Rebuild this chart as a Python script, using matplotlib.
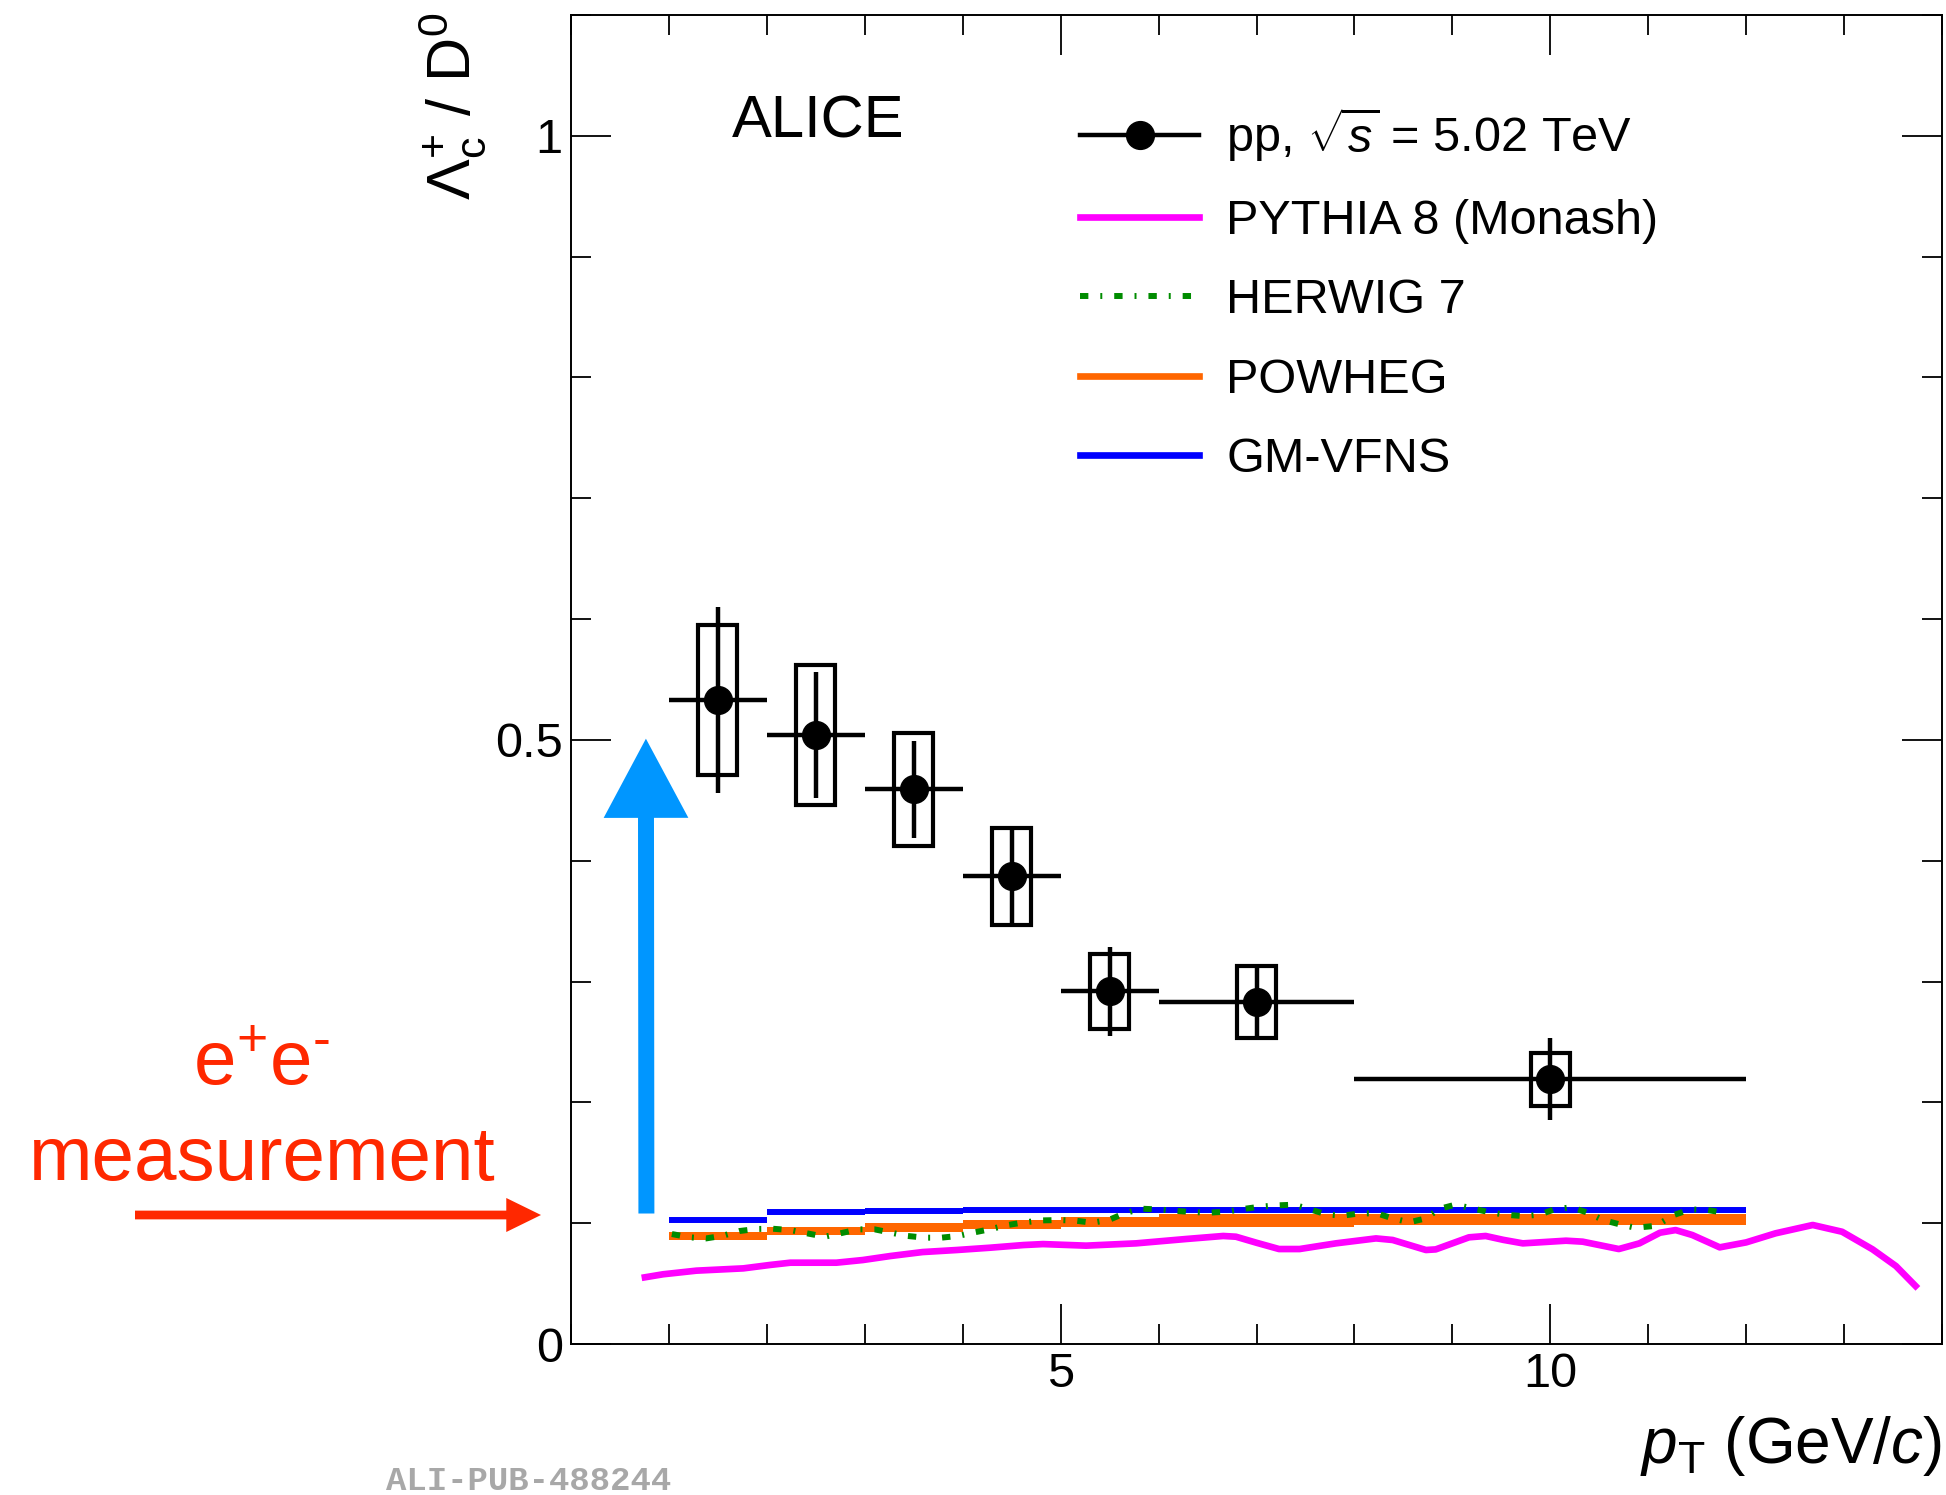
import matplotlib
matplotlib.use("Agg")
import matplotlib.pyplot as plt
from matplotlib.patches import Rectangle, FancyArrowPatch, ArrowStyle
from matplotlib.lines import Line2D
from matplotlib.ticker import MultipleLocator, FixedLocator, FixedFormatter

plt.rcParams['font.family'] = ['Liberation Sans', 'DejaVu Sans']
plt.rcParams['mathtext.fontset'] = 'custom'
plt.rcParams['mathtext.rm'] = 'Liberation Sans'
plt.rcParams['mathtext.it'] = 'Liberation Sans:italic'
plt.rcParams['mathtext.bf'] = 'Liberation Sans:bold'

# ---------------- data ----------------
pt_center = [1.5, 2.5, 3.5, 4.5, 5.5, 7.0, 10.0]
pt_halfwidth = [0.5, 0.5, 0.5, 0.5, 0.5, 1.0, 2.0]
ratio = [0.533, 0.504, 0.459, 0.387, 0.292, 0.283, 0.219]
stat_err = [0.077, 0.052, 0.040, 0.039, 0.037, 0.031, 0.034]
syst_err = [0.062, 0.058, 0.047, 0.040, 0.031, 0.030, 0.022]

model_edges = [1, 2, 3, 4, 5, 6, 8, 12]
gmvfns = [0.103, 0.1095, 0.1103, 0.1105, 0.111, 0.111, 0.111]
powheg_lo = [0.0862, 0.0905, 0.0925, 0.0950, 0.0965, 0.0965, 0.0985]
powheg_hi = [0.0924, 0.0970, 0.0998, 0.1026, 0.1050, 0.1080, 0.1075]

pythia_x = [0.755, 0.94, 1.28, 1.76, 2.03, 2.24, 2.71, 2.98, 3.26, 3.59, 3.94,
            4.28, 4.62, 4.82, 5.09, 5.26, 5.77, 6.28, 6.66, 6.79, 7.00, 7.23,
            7.44, 7.81, 8.22, 8.39, 8.73, 8.83, 9.17, 9.34, 9.52, 9.72, 10.16,
            10.33, 10.70, 10.91, 11.12, 11.28, 11.45, 11.73, 12.00, 12.30,
            12.68, 12.98, 13.29, 13.53, 13.73]
pythia_y = [0.0552, 0.0577, 0.0607, 0.0626, 0.0654, 0.0673, 0.0673, 0.0695,
            0.0728, 0.0761, 0.0778, 0.0797, 0.0819, 0.0827, 0.0819, 0.0814,
            0.0833, 0.0869, 0.0894, 0.0888, 0.0838, 0.0786, 0.0786, 0.0833,
            0.0874, 0.0861, 0.0778, 0.0783, 0.0883, 0.0894, 0.0862, 0.0833,
            0.0855, 0.0847, 0.0786, 0.0833, 0.0921, 0.0943, 0.0902, 0.0800,
            0.0841, 0.0916, 0.0985, 0.0929, 0.0784, 0.0645, 0.0480]

herwig_x = [1.03, 1.21, 1.38, 1.55, 1.72, 1.89, 2.06, 2.24, 2.41, 2.59, 2.75,
            2.93, 3.10, 3.27, 3.44, 3.61, 3.78, 3.95, 4.12, 4.29, 4.46, 4.63,
            4.81, 4.98, 5.15, 5.32, 5.49, 5.65, 5.82, 5.99, 6.16, 6.34, 6.51,
            6.69, 6.86, 7.03, 7.20, 7.38, 7.54, 7.71, 7.88, 8.05, 8.23, 8.39,
            8.56, 8.73, 8.86, 9.03, 9.20, 9.37, 9.54, 9.72, 9.89, 10.05, 10.22,
            10.38, 10.54, 10.71, 10.87, 11.05, 11.13, 11.27, 11.43, 11.61, 11.76]
herwig_y = [0.0910, 0.0883, 0.0874, 0.0896, 0.0935, 0.0952, 0.0954, 0.0943,
            0.0916, 0.0888, 0.0916, 0.0949, 0.0949, 0.0921, 0.0894, 0.0880,
            0.0880, 0.0894, 0.0924, 0.0952, 0.0985, 0.1007, 0.1023, 0.1026,
            0.1021, 0.1004, 0.1026, 0.1081, 0.1120, 0.1114, 0.1103, 0.1092,
            0.1087, 0.1095, 0.1117, 0.1136, 0.1147, 0.1153, 0.1117, 0.1073,
            0.1062, 0.1081, 0.1081, 0.1040, 0.1007, 0.1040, 0.1117, 0.1153,
            0.1123, 0.1092, 0.1070, 0.1059, 0.1070, 0.1117, 0.1131, 0.1087,
            0.1026, 0.0990, 0.0962, 0.0976, 0.1004, 0.1070, 0.1114, 0.1109,
            0.1087]

ytick_vals = [0, 0.5, 1]
ytick_labels = ['0', '0.5', '1']
xtick_vals = [5, 10]
xtick_labels = ['5', '10']

legend_labels = [r'pp, $\sqrt{s}$ = 5.02 TeV', 'PYTHIA 8 (Monash)', 'HERWIG 7',
                 'POWHEG', 'GM-VFNS']

# ---------------- style ----------------
W, H = 1946, 1495
fig = plt.figure(figsize=(W / 100, H / 100), dpi=100)
ax = fig.add_axes([571 / W, 151 / H, 1371 / W, 1329 / H])
ax.set_xlim(0, 14)
ax.set_ylim(0, 1.1)

C_PY = '#ff00ff'
C_HW = '#008c00'
C_PW = '#ff6600'
C_GM = '#0000ff'
HW_DASH = (0, (1.4, 2.0, 0.33, 2.0))

# POWHEG band
ax.stairs(powheg_hi, model_edges, baseline=powheg_lo, fill=True,
          color=C_PW, lw=0, zorder=2)
# GM-VFNS
ax.hlines(gmvfns, model_edges[:-1], model_edges[1:], colors=C_GM, lw=4.3,
          zorder=3)
# PYTHIA
ax.plot(pythia_x, pythia_y, color=C_PY, lw=4.8, zorder=3,
        solid_joinstyle='round')
# HERWIG
ax.plot(herwig_x, herwig_y, color=C_HW, lw=4.3, linestyle=HW_DASH,
        dash_capstyle='butt', zorder=4)

# data: systematic boxes
for xc, yc, s in zip(pt_center, ratio, syst_err):
    ax.add_patch(Rectangle((xc - 0.2, yc - s), 0.4, 2 * s, fill=False,
                           ec='black', lw=3.0, zorder=5))
ax.errorbar(pt_center, ratio, xerr=pt_halfwidth, yerr=stat_err, fmt='o',
            color='black', ms=20, lw=3.2, capsize=0, zorder=6)

# ticks
ax.xaxis.set_major_locator(FixedLocator(xtick_vals))
ax.xaxis.set_major_formatter(FixedFormatter(xtick_labels))
ax.xaxis.set_minor_locator(MultipleLocator(1))
ax.yaxis.set_major_locator(FixedLocator(ytick_vals))
ax.yaxis.set_major_formatter(FixedFormatter(ytick_labels))
ax.yaxis.set_minor_locator(MultipleLocator(0.1))
ax.tick_params(which='both', direction='in', top=True, right=True,
               width=1.3, labelsize=35, colors='black')
ax.tick_params(which='major', length=28.8)
ax.tick_params(which='minor', length=14.4)
ax.tick_params(axis='x', pad=6)
ax.tick_params(axis='y', pad=6)
for sp in ax.spines.values():
    sp.set_linewidth(1.4)

# axis titles
ax.text(-0.0868, 1.0023, r'$\Lambda_{\mathrm{c}}^{+}$ / D$^{0}$',
        rotation=90, ha='center', va='top', fontsize=44,
        transform=ax.transAxes)
ax.text(1.0, -0.0895, r'$p_{\mathrm{T}}$ (GeV/$c$)', ha='right',
        va='baseline', fontsize=46, transform=ax.transAxes)

# ALICE
ax.text(0.1174, 0.9082, 'ALICE', fontsize=43, ha='left', va='baseline',
        transform=ax.transAxes)

# legend
handles = [
    Line2D([], [], color='black', lw=3.2, marker='o', ms=20),
    Line2D([], [], color=C_PY, lw=4.8),
    Line2D([], [], color=C_HW, lw=4.3, linestyle=HW_DASH, dash_capstyle='butt'),
    Line2D([], [], color=C_PW, lw=4.8),
    Line2D([], [], color=C_GM, lw=4.8),
]
ax.legend(handles, legend_labels, loc='upper left',
          bbox_to_anchor=(0.3713, 0.932), frameon=False, borderpad=0,
          borderaxespad=0, handlelength=2.45, handletextpad=0.56,
          labelspacing=0.71, fontsize=35)

# blue hand-drawn arrow
blue_arrow = FancyArrowPatch((0.77, 0.108), (0.765, 0.501),
                             arrowstyle=ArrowStyle.Simple(head_length=57,
                                                          head_width=61,
                                                          tail_width=11.5),
                             mutation_scale=1, color='#0096ff', lw=0,
                             shrinkA=0, shrinkB=0, zorder=7,
                             transform=ax.transData, clip_on=False)
ax.add_patch(blue_arrow)

# red annotation
RED = '#ff2800'
fig.text(262 / W, (H - 1085) / H, 'e$^{+}$e$^{\u2010}$', ha='center',
         va='baseline', fontsize=55, color=RED)
fig.text(262 / W, (H - 1180) / H, 'measurement', ha='center',
         va='baseline', fontsize=55, color=RED)
red_arrow = FancyArrowPatch((135 / W, (H - 1215) / H), (541 / W, (H - 1215) / H),
                            arrowstyle=ArrowStyle.Simple(head_length=25,
                                                         head_width=24.5,
                                                         tail_width=6.3),
                            mutation_scale=1, color=RED, lw=0,
                            shrinkA=0, shrinkB=0, transform=fig.transFigure)
fig.patches.append(red_arrow)

# watermark
fig.text(386 / W, 5 / H, 'ALI-PUB-488244', family='Liberation Mono',
         weight='bold', fontsize=24.5, color='#a8a8a8', ha='left',
         va='baseline')

fig.savefig('out.png', dpi=100)
